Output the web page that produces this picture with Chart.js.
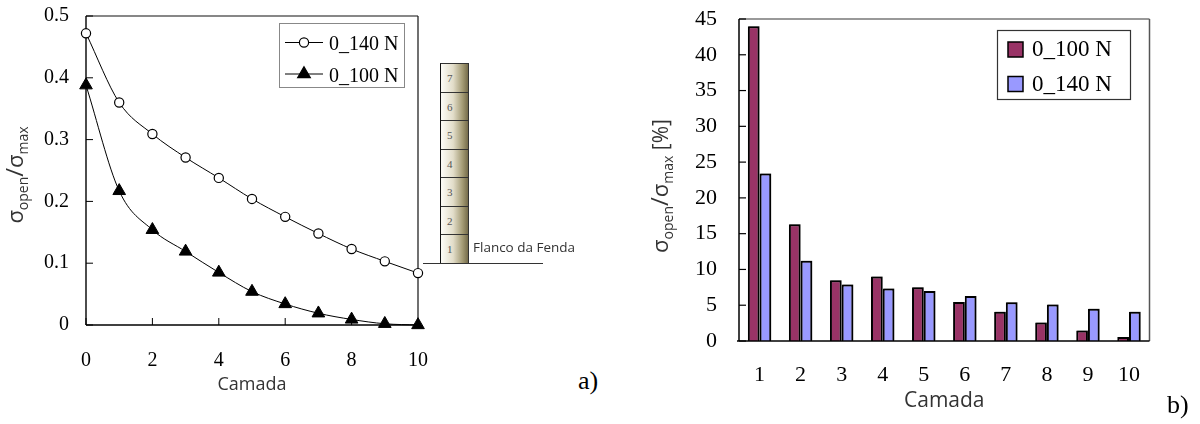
<!DOCTYPE html>
<html>
<head>
<meta charset="utf-8">
<script src="https://cdn.jsdelivr.net/npm/chart.js@4.4.1/dist/chart.umd.min.js"></script>
<style>
  body { margin:0; width:1200px; height:424px; background:#fff; position:relative; overflow:hidden; }
  .panel { position:absolute; top:0; }
  .tag { position:absolute; font-family:"Liberation Serif", serif; font-size:26px; color:#000; line-height:1; }
  #layers { position:absolute; left:440px; top:63px; width:28px; border-left:1px solid #111; border-top:1px solid #333; }
  .layer { height:28.57px; border-right:1px solid #333; border-bottom:1px solid #333; box-sizing:border-box;
           background:linear-gradient(to right, #faf9f3 5%, #e2ddc9 45%, #a39a74 80%, #756c4b 100%);
           font-family:"Liberation Serif", serif; font-size:11px; color:#555; line-height:28px; padding-left:6px; }
  #ground { position:absolute; left:423px; top:263px; width:120px; height:0; border-top:1px solid #333; }
  #flank { position:absolute; left:473px; top:238px; font-family:"Open Sans", sans-serif; font-size:13.5px; color:#333; }
</style>
</head>
<body>
<div class="panel" style="left:0;width:440px;height:424px"><canvas id="chartA" width="440" height="424"></canvas></div>
<div class="panel" style="left:640px;width:560px;height:424px"><canvas id="chartB" width="560" height="424"></canvas></div>

<div id="layers"></div>
<div id="ground"></div>
<div id="flank">Flanco da Fenda</div>
<div class="tag" style="left:578px;top:368px">a)</div>
<div class="tag" style="left:1167px;top:392px">b)</div>

<script>
// a) stress ratio per layer, line chart
const layers = [0, 1, 2, 3, 4, 5, 6, 7, 8, 9, 10];
const ratio140 = [0.472, 0.360, 0.309, 0.271, 0.238, 0.204, 0.175, 0.148, 0.123, 0.103, 0.084];
const ratio100 = [0.388, 0.217, 0.154, 0.119, 0.085, 0.054, 0.034, 0.019, 0.009, 0.002, 0.0];
const xTicksA = [0, 2, 4, 6, 8, 10];
const yTicksA = [0, 0.1, 0.2, 0.3, 0.4, 0.5];

// b) stress ratio in percent, bar chart
const camadas = ['1', '2', '3', '4', '5', '6', '7', '8', '9', '10'];
const pct100 = [44.0, 16.3, 8.5, 9.0, 7.5, 5.45, 4.1, 2.6, 1.45, 0.55];
const pct140 = [23.4, 11.2, 7.9, 7.35, 7.0, 6.3, 5.4, 5.1, 4.5, 4.1];
const yTicksB = [0, 5, 10, 15, 20, 25, 30, 35, 40, 45];

// layer column next to chart a
const diagram = ['7', '6', '5', '4', '3', '2', '1'];

const serif = '"Liberation Serif", "Times New Roman", serif';
const sans = '"Open Sans", "Noto Sans", sans-serif';

const col = document.getElementById('layers');
diagram.forEach(n => {
  const d = document.createElement('div');
  d.className = 'layer';
  d.textContent = n;
  col.appendChild(d);
});

function fixTicks(list) {
  return s => { s.ticks = list.map(v => ({ value: v })); };
}

// fixed axis size, and no extra room for overhanging labels
function fixSize(prop, size) {
  return s => {
    s[prop] = size;
    s.paddingTop = s.paddingBottom = s.paddingLeft = s.paddingRight = 0;
  };
}

// σ_open/σ_max, rotated, subscripts drawn lower and smaller
function sigmaTitle(ctx, cx, cy, main, sub, tail) {
  const parts = [['σ', main, 0], ['open', sub, 5], ['/', main + 2, 0], ['σ', main, 0], ['max', sub, 5]];
  if (tail) parts.push([tail, main - 1, 0]);
  ctx.save();
  ctx.translate(cx, cy);
  ctx.rotate(-Math.PI / 2);
  ctx.fillStyle = '#333';
  ctx.textBaseline = 'alphabetic';
  ctx.textAlign = 'left';
  let total = 0;
  parts.forEach(p => { ctx.font = p[1] + 'px ' + sans; p.push(ctx.measureText(p[0]).width); total += p[3]; });
  let x = -total / 2;
  parts.forEach(p => { ctx.font = p[1] + 'px ' + sans; ctx.fillText(p[0], x, p[2]); x += p[3]; });
  ctx.restore();
}

function line(ctx, x1, y1, x2, y2, color, w) {
  ctx.beginPath();
  ctx.strokeStyle = color;
  ctx.lineWidth = w;
  ctx.moveTo(x1, y1);
  ctx.lineTo(x2, y2);
  ctx.stroke();
}

function marker(ctx, style, x, y, r, fill) {
  ctx.beginPath();
  if (style === 'circle') {
    ctx.arc(x, y, r, 0, Math.PI * 2);
  } else {
    let rad = 0;
    for (let i = 0; i < 3; i++) {
      const px = x + Math.sin(rad) * r, py = y - Math.cos(rad) * r;
      i ? ctx.lineTo(px, py) : ctx.moveTo(px, py);
      rad += Math.PI * 2 / 3;
    }
    ctx.closePath();
  }
  ctx.fillStyle = fill;
  ctx.fill();
  ctx.lineWidth = 1.2;
  ctx.strokeStyle = '#000';
  ctx.stroke();
}

const frameA = {
  id: 'frameA',
  beforeDatasetsDraw(chart) {
    const { ctx, chartArea: a, scales } = chart;
    ctx.save();
    line(ctx, a.left, a.top, a.right, a.top, '#111', 1.2);
    line(ctx, a.right, a.top, a.right, a.bottom, '#111', 1.2);
    line(ctx, a.left, a.top, a.left, a.bottom, '#000', 1.4);
    line(ctx, a.left, a.bottom, a.right, a.bottom, '#000', 1.4);
    yTicksA.forEach(v => { const y = scales.y.getPixelForValue(v); line(ctx, a.left, y, a.left + 7, y, '#000', 1); });
    xTicksA.forEach(v => { const x = scales.x.getPixelForValue(v); line(ctx, x, a.bottom, x, a.bottom - 7, '#000', 1); });
    ctx.restore();
  },
  afterDraw(chart) {
    const { ctx, chartArea: a } = chart;
    ctx.save();
    // legend
    ctx.fillStyle = '#fff';
    ctx.fillRect(279.5, 23.5, 125, 64);
    ctx.strokeStyle = '#888';
    ctx.lineWidth = 1;
    ctx.strokeRect(279.5, 23.5, 125, 64);
    const rows = [[42.5, 50], [74, 81.5]];
    chart.data.datasets.forEach((ds, i) => {
      const [ly, ty] = rows[i];
      line(ctx, 285, ly, 323, ly, '#000', 1);
      marker(ctx, ds.pointStyle, 304, ly, ds.pointRadius, ds.pointBackgroundColor);
      ctx.fillStyle = '#000';
      ctx.font = '20px ' + serif;
      ctx.textAlign = 'left';
      ctx.textBaseline = 'alphabetic';
      ctx.fillText(ds.label, 329, ty);
    });
    // axis titles
    ctx.fillStyle = '#333';
    ctx.font = '18px ' + sans;
    ctx.textAlign = 'center';
    ctx.fillText('Camada', (a.left + a.right) / 2, 390);
    sigmaTitle(ctx, 23, 175, 22, 14);
    ctx.restore();
  }
};

new Chart(document.getElementById('chartA'), {
  type: 'line',
  data: {
    datasets: [
      { label: '0_140 N', data: layers.map((x, i) => ({ x, y: ratio140[i] })), borderColor: '#000', borderWidth: 1,
        pointStyle: 'circle', pointRadius: 4.6, pointBackgroundColor: '#fff', pointBorderColor: '#000', pointBorderWidth: 1.2,
        cubicInterpolationMode: 'monotone', clip: false },
      { label: '0_100 N', data: layers.map((x, i) => ({ x, y: ratio100[i] })), borderColor: '#000', borderWidth: 1,
        pointStyle: 'triangle', pointRadius: 7.3, pointBackgroundColor: '#000', pointBorderColor: '#000', pointBorderWidth: 1,
        cubicInterpolationMode: 'monotone', clip: false }
    ]
  },
  options: {
    responsive: false, animation: false, devicePixelRatio: 1,
    layout: { padding: { top: 16, right: 22, left: 0, bottom: 0 } },
    plugins: { legend: { display: false }, tooltip: { enabled: false } },
    scales: {
      x: { type: 'linear', min: 0, max: 10, afterBuildTicks: fixTicks(xTicksA), afterFit: fixSize('height', 99),
           grid: { display: false, drawTicks: false }, border: { display: false },
           ticks: { font: { family: serif, size: 20 }, color: '#000', padding: 24, maxRotation: 0 } },
      y: { min: 0, max: 0.5, afterBuildTicks: fixTicks(yTicksA), afterFit: fixSize('width', 86),
           grid: { display: false, drawTicks: false }, border: { display: false },
           ticks: { font: { family: serif, size: 20 }, color: '#000', padding: 17, callback: v => +v.toFixed(1) } }
    }
  },
  plugins: [frameA]
});

const frameB = {
  id: 'frameB',
  beforeDatasetsDraw(chart) {
    const { ctx, chartArea: a, scales } = chart;
    ctx.save();
    line(ctx, a.left, a.top, a.right, a.top, '#777', 1.5);
    line(ctx, a.right, a.top, a.right, a.bottom, '#555', 1.5);
    line(ctx, a.left, a.top, a.left, a.bottom, '#000', 1.5);
    yTicksB.forEach(v => { const y = scales.y.getPixelForValue(v); line(ctx, a.left, y, a.left + 7, y, '#000', 1.2); });
    ctx.restore();
    // light drop shadow on the bars
    ctx.save();
    ctx.shadowColor = 'rgba(0,0,0,0.35)';
    ctx.shadowOffsetX = 1;
    ctx.shadowOffsetY = -1;
  },
  afterDatasetsDraw(chart) {
    const { ctx, chartArea: a } = chart;
    ctx.restore();
    ctx.save();
    line(ctx, a.left - 2, a.bottom, a.right, a.bottom, '#000', 1.5);
    ctx.restore();
  },
  afterDraw(chart) {
    const { ctx, chartArea: a } = chart;
    const ox = 640;
    ctx.save();
    // legend
    ctx.fillStyle = '#fff';
    ctx.fillRect(997.5 - ox, 30.5, 133, 69);
    ctx.strokeStyle = '#333';
    ctx.lineWidth = 1.2;
    ctx.strokeRect(997.5 - ox, 30.5, 133, 69);
    const rows = [[42, 56], [76.5, 90.5]];
    chart.data.datasets.forEach((ds, i) => {
      const [sy, ty] = rows[i];
      ctx.fillStyle = ds.backgroundColor;
      ctx.fillRect(1008 - ox, sy, 15, 15);
      ctx.strokeStyle = '#000';
      ctx.lineWidth = 1.5;
      ctx.strokeRect(1008 - ox, sy, 15, 15);
      ctx.fillStyle = '#000';
      ctx.font = '23px ' + serif;
      ctx.textAlign = 'left';
      ctx.textBaseline = 'alphabetic';
      ctx.fillText(ds.label, 1032 - ox, ty);
    });
    ctx.fillStyle = '#333';
    ctx.font = '21px ' + sans;
    ctx.textAlign = 'center';
    ctx.fillText('Camada', (a.left + a.right) / 2, 407);
    sigmaTitle(ctx, 668 - ox, 186, 22, 14, ' [%]');
    ctx.restore();
  }
};

new Chart(document.getElementById('chartB'), {
  type: 'bar',
  data: {
    labels: camadas,
    datasets: [
      { label: '0_100 N', data: pct100, backgroundColor: '#993366', borderColor: '#000', borderWidth: 2 },
      { label: '0_140 N', data: pct140, backgroundColor: '#9999ff', borderColor: '#000', borderWidth: 2 }
    ]
  },
  options: {
    responsive: false, animation: false, devicePixelRatio: 1,
    categoryPercentage: 0.57, barPercentage: 1,
    layout: { padding: { top: 19, right: 50.5, left: 0, bottom: 0 } },
    plugins: { legend: { display: false }, tooltip: { enabled: false } },
    scales: {
      x: { afterFit: fixSize('height', 83),
           grid: { display: false, drawTicks: false }, border: { display: false },
           ticks: { font: { family: serif, size: 22 }, color: '#000', padding: 21, maxRotation: 0 } },
      y: { min: 0, max: 45, afterBuildTicks: fixTicks(yTicksB), afterFit: fixSize('width', 99),
           grid: { display: false, drawTicks: false }, border: { display: false },
           ticks: { font: { family: serif, size: 22 }, color: '#000', padding: 22 } }
    }
  },
  plugins: [frameB]
});
</script>
</body>
</html>
